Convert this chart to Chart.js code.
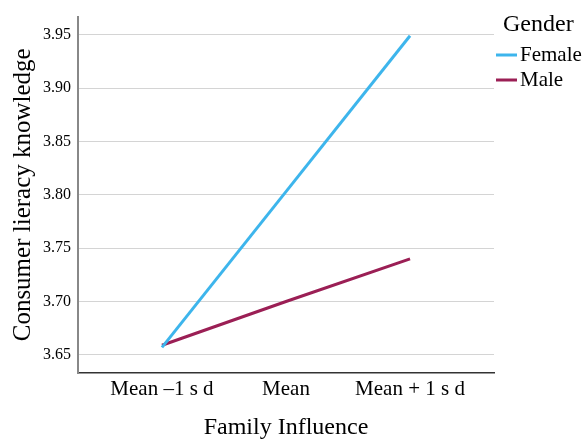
<!DOCTYPE html>
<html>
<head>
<meta charset="utf-8">
<script src="https://cdn.jsdelivr.net/npm/chart.js@4/dist/chart.umd.min.js"></script>
<style>
  html, body { margin: 0; padding: 0; background: #fff; }
  #wrap { width: 583px; height: 442px; }
</style>
</head>
<body>
<div id="wrap"><canvas id="chart" width="583" height="442"></canvas></div>
<script>
// datos
const categorias = ['Mean \u20131 s d', 'Mean', 'Mean + 1 s d'];
const female = [3.657, 3.803, 3.949];
const male = [3.659, 3.700, 3.740];
const yTicks = [3.65, 3.70, 3.75, 3.80, 3.85, 3.90, 3.95];
const leyenda = ['Female', 'Male'];

const fuente = "'Liberation Serif', 'Times New Roman', serif";

function puntos(vals) {
  return vals.map((v, i) => ({ x: i, y: v }));
}

// Leyenda dibujada a mano (titulo Gender + lineas)
const leyendaPlugin = {
  id: 'leyendaGender',
  afterDraw(chart) {
    const ctx = chart.ctx;
    ctx.save();
    ctx.fillStyle = '#000';
    ctx.textBaseline = 'middle';
    ctx.font = '24px ' + fuente;
    ctx.fillText('Gender', 503, 25);
    ctx.font = '21px ' + fuente;
    chart.data.datasets.forEach((ds, i) => {
      const y = 55 + i * 25;
      ctx.strokeStyle = ds.borderColor;
      ctx.lineWidth = 3;
      ctx.beginPath();
      ctx.moveTo(496, y);
      ctx.lineTo(517, y);
      ctx.stroke();
      ctx.fillText(ds.label, 520, y);
    });
    ctx.restore();
  }
};

new Chart(document.getElementById('chart'), {
  type: 'line',
  data: {
    datasets: [
      { label: leyenda[0], data: puntos(female), borderColor: '#3db5ec', borderWidth: 3, pointRadius: 0, fill: false },
      { label: leyenda[1], data: puntos(male), borderColor: '#9b1f55', borderWidth: 3, pointRadius: 0, fill: false }
    ]
  },
  options: {
    responsive: false,
    animation: false,
    layout: { padding: { top: 6, right: 89, left: 0, bottom: 0 } },
    plugins: { legend: { display: false }, tooltip: { enabled: false } },
    scales: {
      x: {
        type: 'linear',
        min: -0.677,
        max: 2.677,
        afterBuildTicks: s => { s.ticks = categorias.map((c, i) => ({ value: i })); },
        afterFit: s => { s.height = 69; },
        ticks: {
          callback: v => categorias[v],
          color: '#000',
          font: { family: fuente, size: 21 },
          padding: 4,
          maxRotation: 0
        },
        grid: { display: false, drawTicks: false },
        border: { color: '#333', width: 1.5 },
        title: { display: true, text: 'Family Influence', color: '#000', font: { family: fuente, size: 24 }, padding: { top: 14, bottom: 0 } }
      },
      y: {
        min: 3.633,
        max: 3.967,
        afterBuildTicks: s => { s.ticks = yTicks.map(v => ({ value: v })); },
        afterFit: s => { s.width = 78; },
        ticks: {
          callback: v => v.toFixed(2),
          color: '#000',
          font: { family: fuente, size: 16 },
          padding: 7
        },
        grid: { color: '#d4d4d4', lineWidth: 1, drawTicks: false },
        border: { color: '#888', width: 2 },
        title: { display: true, text: 'Consumer lieracy knowledge', color: '#000', font: { family: fuente, size: 25 }, padding: { top: 8, bottom: 0 } }
      }
    }
  },
  plugins: [leyendaPlugin]
});
</script>
</body>
</html>
